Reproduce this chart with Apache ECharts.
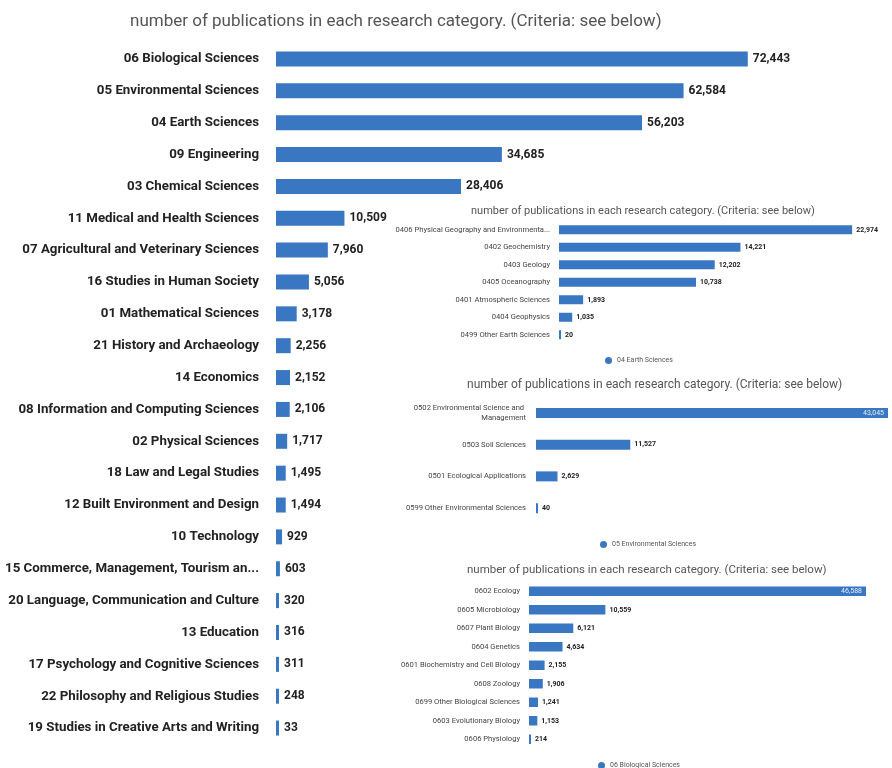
<!DOCTYPE html>
<html>
<head>
<meta charset="utf-8">
<script src="https://cdn.jsdelivr.net/npm/echarts@6/dist/echarts.min.js"></script>
<style>
  html, body { margin: 0; padding: 0; background: #fff; }
  #chart { width: 892px; height: 768px; }
</style>
</head>
<body>
<div id="chart"></div>
<script>
// Publications per research division (main ranking)
const mainCategories = [
  '06 Biological Sciences', '05 Environmental Sciences', '04 Earth Sciences',
  '09 Engineering', '03 Chemical Sciences', '11 Medical and Health Sciences',
  '07 Agricultural and Veterinary Sciences', '16 Studies in Human Society',
  '01 Mathematical Sciences', '21 History and Archaeology', '14 Economics',
  '08 Information and Computing Sciences', '02 Physical Sciences',
  '18 Law and Legal Studies', '12 Built Environment and Design', '10 Technology',
  '15 Commerce, Management, Tourism and Services', '20 Language, Communication and Culture',
  '13 Education', '17 Psychology and Cognitive Sciences',
  '22 Philosophy and Religious Studies', '19 Studies in Creative Arts and Writing'
];
const mainValues = [72443, 62584, 56203, 34685, 28406, 10509, 7960, 5056, 3178, 2256,
  2152, 2106, 1717, 1495, 1494, 929, 603, 320, 316, 311, 248, 33];

// 04 Earth Sciences breakdown
const earthName = '04 Earth Sciences';
const earthCategories = [
  '0406 Physical Geography and Environmental Geoscience', '0402 Geochemistry',
  '0403 Geology', '0405 Oceanography', '0401 Atmospheric Sciences',
  '0404 Geophysics', '0499 Other Earth Sciences'
];
const earthValues = [22974, 14221, 12202, 10738, 1893, 1035, 20];

// 05 Environmental Sciences breakdown
const envName = '05 Environmental Sciences';
const envCategories = [
  '0502 Environmental Science and Management', '0503 Soil Sciences',
  '0501 Ecological Applications', '0599 Other Environmental Sciences'
];
const envValues = [43045, 11527, 2629, 40];

// 06 Biological Sciences breakdown
const bioName = '06 Biological Sciences';
const bioCategories = [
  '0602 Ecology', '0605 Microbiology', '0607 Plant Biology', '0604 Genetics',
  '0601 Biochemistry and Cell Biology', '0608 Zoology', '0699 Other Biological Sciences',
  '0603 Evolutionary Biology', '0606 Physiology'
];
const bioValues = [46588, 10559, 6121, 4634, 2155, 1906, 1241, 1153, 214];

const titleText = 'number of publications in each research category. (Criteria: see below)';
const BAR = '#3a77c3';
const FONT = 'Roboto, "Noto Sans", sans-serif';
const fmt = v => v.toLocaleString('en-US');

// Wide bars that fill their panel carry their label inside
function insetData(values) {
  const max = Math.max(...values);
  return values.map(v => v === max && v > 40000
    ? { value: v, label: { position: 'insideRight', color: '#e4ebf5', fontWeight: 'normal' } }
    : v);
}

function hiddenX(gridIndex, max) {
  return {
    type: 'value', gridIndex, min: 0, max,
    show: false, splitLine: { show: false }
  };
}
function catY(gridIndex, data, label) {
  return {
    type: 'category', gridIndex, data, inverse: true,
    axisLine: { show: false }, axisTick: { show: false }, splitLine: { show: false },
    axisLabel: Object.assign({ fontFamily: FONT, interval: 0 }, label)
  };
}
function insetLabel(size) {
  return {
    show: true, position: 'right', distance: 4,
    formatter: p => fmt(p.value),
    fontFamily: FONT, fontSize: size, fontWeight: 'bold', color: '#222'
  };
}

const chart = echarts.init(document.getElementById('chart'), null, { renderer: 'canvas' });

chart.setOption({
  backgroundColor: '#fff',
  animation: false,
  title: [
    { text: titleText, left: 125, top: 8,
      textStyle: { fontFamily: FONT, fontSize: 17, fontWeight: 'normal', color: '#555' } },
    { text: titleText, left: 466, top: 201,
      textStyle: { fontFamily: FONT, fontSize: 11, fontWeight: 'normal', color: '#555' } },
    { text: titleText, left: 462, top: 374,
      textStyle: { fontFamily: FONT, fontSize: 12, fontWeight: 'normal', color: '#555' } },
    { text: titleText, left: 462, top: 559,
      textStyle: { fontFamily: FONT, fontSize: 11.5, fontWeight: 'normal', color: '#555' } }
  ],
  legend: [
    { data: [earthName], left: 600, top: 352, icon: 'circle', itemWidth: 7, itemHeight: 7,
      textStyle: { fontFamily: FONT, fontSize: 7, color: '#555' } },
    { data: [envName], left: 595, top: 536, icon: 'circle', itemWidth: 7, itemHeight: 7,
      textStyle: { fontFamily: FONT, fontSize: 7, color: '#555' } },
    { data: [bioName], left: 593, top: 757, icon: 'circle', itemWidth: 7, itemHeight: 7,
      textStyle: { fontFamily: FONT, fontSize: 7, color: '#555' } }
  ],
  grid: [
    { left: 276, top: 43, width: 521, height: 701 },
    { left: 559, top: 221, width: 319, height: 122.5 },
    { left: 536, top: 397, width: 352, height: 127 },
    { left: 529, top: 582, width: 337, height: 166.5 }
  ],
  xAxis: [
    hiddenX(0, 80000),
    hiddenX(1, 25000),
    hiddenX(2, 'dataMax'),
    hiddenX(3, 'dataMax')
  ],
  yAxis: [
    catY(0, mainCategories, { fontSize: 13.3, fontWeight: 'bold', color: '#222', margin: 17,
      width: 256, overflow: 'truncate', ellipsis: '...' }),
    catY(1, earthCategories, { fontSize: 7.6, color: '#444', margin: 9,
      width: 157, overflow: 'truncate', ellipsis: '...' }),
    catY(2, envCategories, { fontSize: 7.6, color: '#444', margin: 10,
      width: 145, overflow: 'break', lineHeight: 10 }),
    catY(3, bioCategories, { fontSize: 7.6, color: '#444', margin: 9 })
  ],
  series: [
    { name: 'Publications', type: 'bar', xAxisIndex: 0, yAxisIndex: 0,
      data: mainValues, barWidth: 15, barMinHeight: 3, itemStyle: { color: BAR },
      label: { show: true, position: 'right', distance: 5, formatter: p => fmt(p.value),
        fontFamily: FONT, fontSize: 12, fontWeight: 'bold', color: '#222' } },
    { name: earthName, type: 'bar', xAxisIndex: 1, yAxisIndex: 1,
      data: earthValues, barWidth: 9, barMinHeight: 2, itemStyle: { color: BAR }, label: insetLabel(7) },
    { name: envName, type: 'bar', xAxisIndex: 2, yAxisIndex: 2,
      data: insetData(envValues), barWidth: 10, barMinHeight: 2, itemStyle: { color: BAR }, label: insetLabel(7) },
    { name: bioName, type: 'bar', xAxisIndex: 3, yAxisIndex: 3,
      data: insetData(bioValues), barWidth: 9.5, barMinHeight: 2, itemStyle: { color: BAR }, label: insetLabel(7) }
  ]
});
</script>
</body>
</html>
